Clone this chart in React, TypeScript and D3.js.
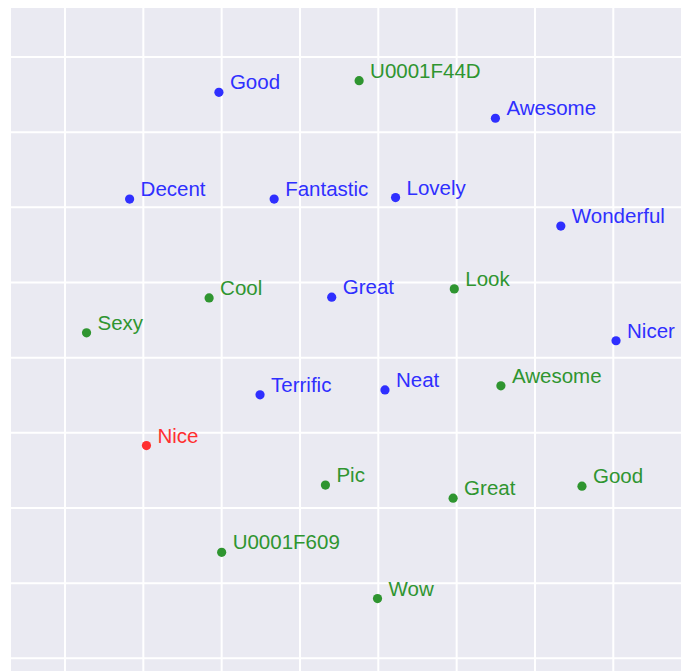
import { scaleLinear } from "d3";

// word embedding projection: each point is one word
type WordPoint = { word: string; x: number; y: number };

const blueWords: WordPoint[] = [
  { word: "Good", x: -20.7, y: 70.6 },
  { word: "Awesome", x: 49.9, y: 63.7 },
  { word: "Decent", x: -43.5, y: 42.2 },
  { word: "Fantastic", x: -6.6, y: 42.2 },
  { word: "Lovely", x: 24.4, y: 42.6 },
  { word: "Wonderful", x: 66.6, y: 35.0 },
  { word: "Great", x: 8.1, y: 16.1 },
  { word: "Nicer", x: 80.7, y: 4.5 },
  { word: "Terrific", x: -10.2, y: -9.9 },
  { word: "Neat", x: 21.7, y: -8.6 }
];

const greenWords: WordPoint[] = [
  { word: "U0001F44D", x: 15.1, y: 73.7 },
  { word: "Cool", x: -23.2, y: 15.9 },
  { word: "Look", x: 39.4, y: 18.3 },
  { word: "Sexy", x: -54.5, y: 6.6 },
  { word: "Awesome", x: 51.3, y: -7.5 },
  { word: "Pic", x: 6.5, y: -33.9 },
  { word: "Great", x: 39.1, y: -37.4 },
  { word: "Good", x: 72.0, y: -34.2 },
  { word: "U0001F609", x: -20.0, y: -51.8 },
  { word: "Wow", x: 19.8, y: -64.1 }
];

const redWords: WordPoint[] = [{ word: "Nice", x: -39.2, y: -23.4 }];

const xTicks = [-60, -40, -20, 0, 20, 40, 60, 80];
const yTicks = [-80, -60, -40, -20, 0, 20, 40, 60, 80];

const groups = [
  { key: "blue", color: "rgb(47,47,255)", rows: blueWords },
  { key: "green", color: "rgb(47,149,48)", rows: greenWords },
  { key: "red", color: "rgb(255,47,48)", rows: redWords }
];

export default function App() {
  const width = 681;
  const height = 671;
  const plot = { left: 11, top: 8 };

  const xScale = scaleLinear().domain([-60, 80]).range([65, 613.3]);
  const yScale = scaleLinear().domain([-80, 80]).range([658.3, 57]);

  return (
    <svg
      width={width}
      height={height}
      style={{ position: "absolute", left: 0, top: 0, background: "#fff" }}
      fontFamily="'Liberation Sans', Arial, sans-serif"
    >
      <rect x={plot.left} y={plot.top} width={width - plot.left} height={height - plot.top} fill="#EAEAF2" />

      {xTicks.map((t) => (
        <line key={`x${t}`} x1={xScale(t)} x2={xScale(t)} y1={plot.top} y2={height} stroke="#fff" strokeWidth={2} />
      ))}
      {yTicks.map((t) => (
        <line key={`y${t}`} x1={plot.left} x2={width} y1={yScale(t)} y2={yScale(t)} stroke="#fff" strokeWidth={2} />
      ))}

      {groups.map((g) => (
        <g key={g.key}>
          {g.rows.map((d) => {
            const cx = xScale(d.x);
            const cy = yScale(d.y);
            return (
              <g key={`${g.key}-${d.word}`}>
                <circle cx={cx} cy={cy} r={4.6} fill={g.color} />
                <text x={cx + 11} y={cy - 3} fontSize={20.5} fill={g.color}>
                  {d.word}
                </text>
              </g>
            );
          })}
        </g>
      ))}
    </svg>
  );
}
